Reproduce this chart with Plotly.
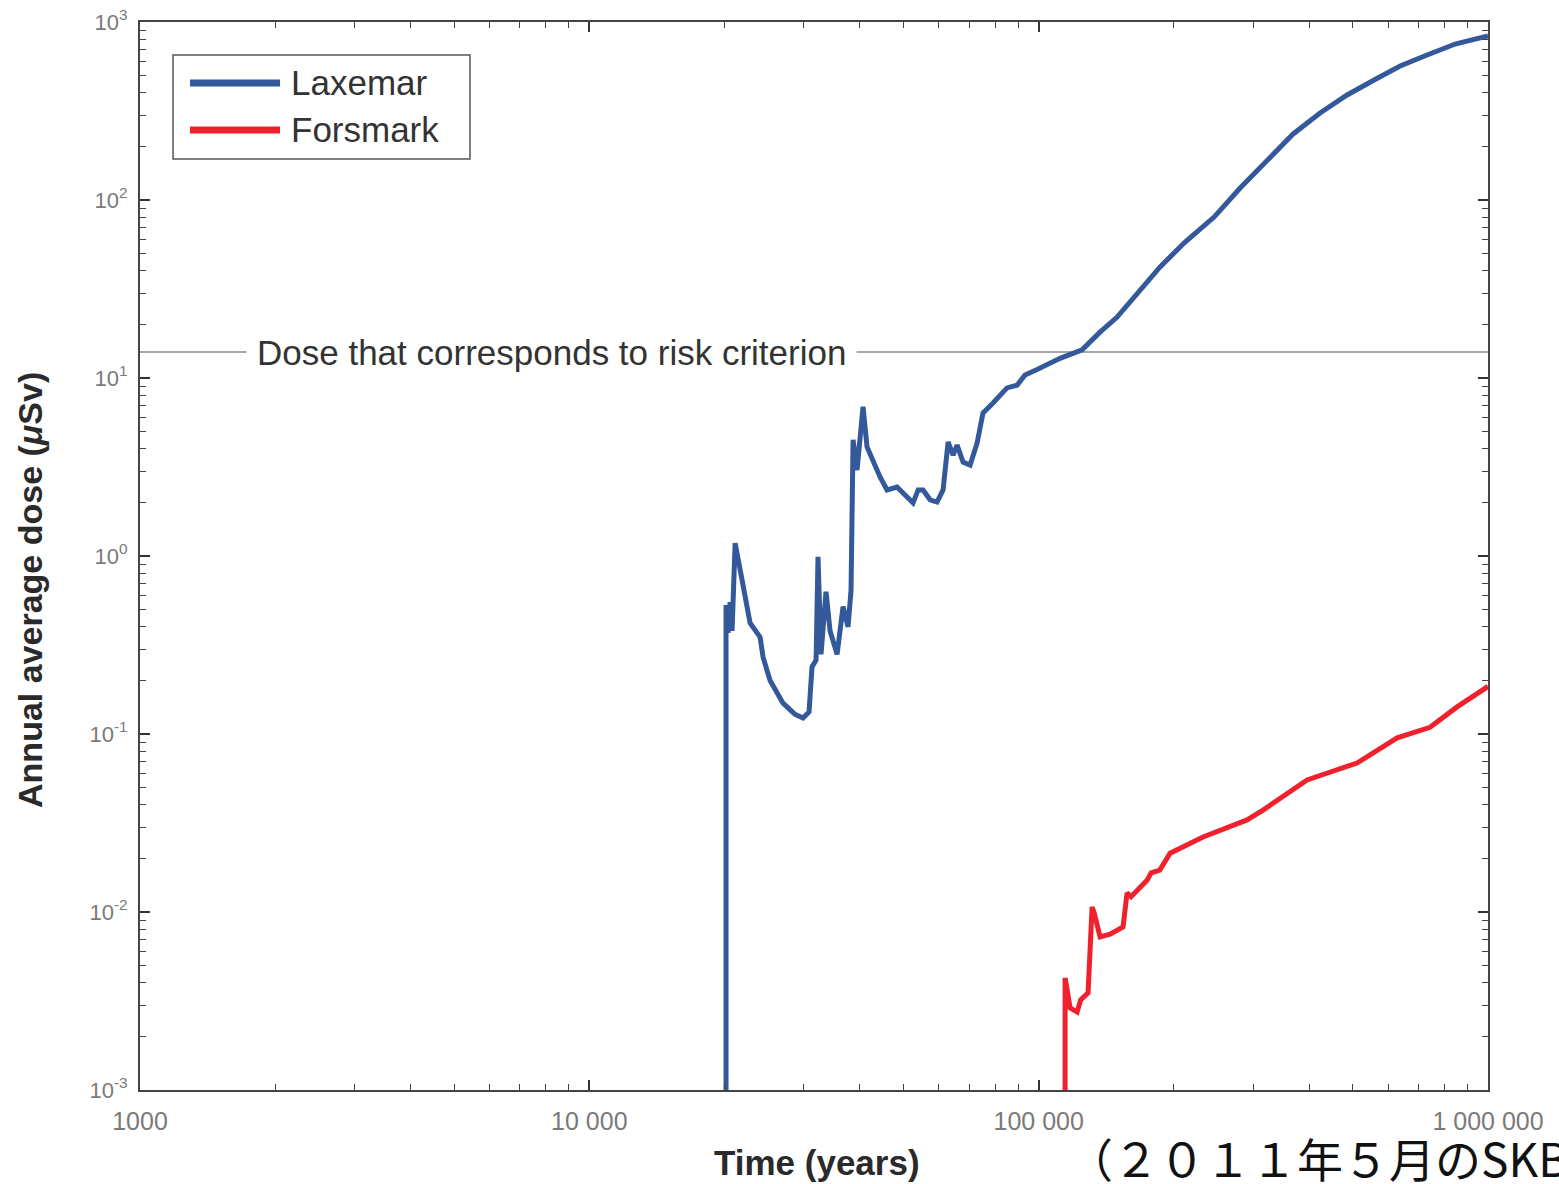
import plotly.graph_objects as go

# ---- data ----
lax_t = [20150, 20150, 20360, 20570, 20780, 21110, 21880, 22790, 23990, 24360, 25250,
         26980, 28700, 29900, 30830, 31300, 31960, 32280, 32780, 33630, 34330, 35590,
         36700, 37650, 38230, 38630, 39430, 40040, 40660, 41500, 42800, 44360, 45980,
         48400, 50420, 52540, 53920, 55300, 57330, 59410, 61270, 62870, 64500, 65840,
         67890, 70370, 72950, 75180, 79150, 82050, 85040, 89500, 93260, 98670, 103300,
         111600, 124900, 136950, 149500, 163900, 186300, 211800, 245700, 280800, 322400,
         368400, 423000, 485800, 557900, 637500, 731900, 845200, 1000000]
lax_v = [1e-4, 0.53, 0.37, 0.55, 0.38, 1.18, 0.73, 0.42, 0.35, 0.27, 0.20,
         0.149, 0.129, 0.123, 0.133, 0.238, 0.26, 0.99, 0.28, 0.63, 0.38, 0.28,
         0.52, 0.40, 0.64, 4.5, 3.04, 4.5, 6.9, 4.1, 3.37, 2.78, 2.35,
         2.44, 2.20, 1.99, 2.35, 2.35, 2.07, 2.01, 2.35, 4.37, 3.69, 4.2,
         3.37, 3.24, 4.32, 6.36, 7.24, 8.0, 8.8, 9.1, 10.4, 11.1, 11.8,
         12.9, 14.4, 18.1, 22.0, 28.9, 42.1, 58.1, 80.2, 116.7, 168,
         235, 308, 389, 472, 566, 653, 752, 834]

for_t = [114500, 114500, 117500, 121800, 124000, 128800, 131500, 133000, 137000, 144200,
         154100, 157300, 160500, 174300, 178000, 186000, 196100, 232200, 290900, 315800,
         395800, 511100, 627900, 743000, 853700, 975000, 1000000]
for_v = [1e-4, 0.00426, 0.00289, 0.00274, 0.00321, 0.00351, 0.01067, 0.0098, 0.00724, 0.0075,
         0.00824, 0.0128, 0.0122, 0.0151, 0.0166, 0.0172, 0.0214, 0.0264, 0.0329, 0.0374,
         0.0552, 0.0687, 0.0951, 0.109, 0.142, 0.177, 0.185]

risk_level = 14.0
risk_label = "Dose that corresponds to risk criterion"

x_tickvals = [1000, 10000, 100000, 1000000]
x_ticktext = ["1000", "10 000", "100 000", "1 000 000"]
y_tickvals = [1e-3, 1e-2, 1e-1, 1e0, 1e1, 1e2, 1e3]
y_ticktext = ["10<sup>-3</sup>", "10<sup>-2</sup>", "10<sup>-1</sup>", "10<sup>0</sup>",
              "10<sup>1</sup>", "10<sup>2</sup>", "10<sup>3</sup>"]

series_names = ["Laxemar", "Forsmark"]
source_note = "（２０１１年５月のSKB"

BLUE = "#33599a"
RED = "#f0202c"
FONT = "Liberation Sans, Arial, sans-serif"
BOLDFONT = "Liberation Sans Narrow, Arial Narrow, Liberation Sans, Arial, sans-serif"

x_minor = [m * 10 ** e for e in range(3, 6) for m in range(2, 10)]
y_minor = [m * 10.0 ** e for e in range(-3, 3) for m in range(2, 10)]

fig = go.Figure()
fig.add_trace(go.Scatter(x=lax_t, y=lax_v, mode="lines", name=series_names[0],
                         line=dict(color=BLUE, width=5), showlegend=False))
fig.add_trace(go.Scatter(x=for_t, y=for_v, mode="lines", name=series_names[1],
                         line=dict(color=RED, width=5), showlegend=False))

# risk criterion line
fig.add_shape(type="line", xref="paper", x0=0, x1=1, yref="y", y0=risk_level, y1=risk_level,
              line=dict(color="#8a8a8a", width=1.5), layer="below")
fig.add_annotation(x=0.3056, xref="paper", y=1.146, yref="y", text=risk_label, showarrow=False,
                   xanchor="center", yanchor="middle",
                   font=dict(family=FONT, size=35, color="#333333"), bgcolor="white",
                   borderpad=10)

# manual legend
fig.add_shape(type="rect", xref="paper", yref="paper", x0=0.0245, x1=0.2448, y0=0.8717, y1=0.969,
              line=dict(color="#555555", width=1.5), fillcolor="white")
leg_y = [0.9429, 0.8989]
for name, col, yy in zip(series_names, [BLUE, RED], leg_y):
    fig.add_shape(type="line", xref="paper", yref="paper", x0=0.0371, x1=0.1039, y0=yy, y1=yy,
                  line=dict(color=col, width=7))
    fig.add_annotation(x=0.1105, xref="paper", y=yy, yref="paper", text=name, showarrow=False,
                       xanchor="left", yanchor="middle",
                       font=dict(family=FONT, size=35, color="#333333"))

# axis titles
fig.add_annotation(x=-0.0816, xref="paper", y=0.4682, yref="paper",
                   text="<b>Annual average dose (<i>μ</i>Sv)</b>", showarrow=False, textangle=-90,
                   xanchor="center", yanchor="middle",
                   font=dict(family=BOLDFONT, size=34, color="#2a2a2a"))
fig.add_annotation(x=0.502, xref="paper", y=-0.068, yref="paper",
                   text="<b>Time (years)</b>", showarrow=False,
                   xanchor="center", yanchor="middle",
                   font=dict(family=BOLDFONT, size=35, color="#2a2a2a"))

# source note (Japanese), runs off the right edge as in the reference
fig.add_annotation(x=0.6865, xref="paper", y=-0.0625, yref="paper", text=source_note,
                   showarrow=False, xanchor="left", yanchor="middle",
                   font=dict(family="Noto Sans CJK JP", size=46, color="#111111"))

axis_common = dict(type="log", showgrid=False, zeroline=False, showline=True,
                   linecolor="#444444", linewidth=2, mirror="allticks", automargin=False,
                   ticks="inside", ticklen=10, tickwidth=2, tickcolor="#333333")

fig.update_xaxes(**axis_common, range=[3, 6], tickvals=x_tickvals, ticktext=x_ticktext,
                 minor=dict(ticks="inside", ticklen=6, tickwidth=1.3, tickcolor="#444444",
                            tickvals=x_minor, showgrid=False),
                 tickfont=dict(family=FONT, size=25, color="#7a7a7a"), ticklabelstandoff=8)
fig.update_yaxes(**axis_common, range=[-3, 3], tickvals=y_tickvals, ticktext=y_ticktext,
                 minor=dict(ticks="inside", ticklen=6, tickwidth=1.3, tickcolor="#444444",
                            tickvals=y_minor, showgrid=False),
                 tickfont=dict(family=FONT, size=22, color="#7a7a7a"), ticklabelstandoff=6)

fig.update_layout(width=1559, height=1184, margin=dict(l=140, r=71, t=22, b=94),
                  paper_bgcolor="white", plot_bgcolor="white", showlegend=False)

fig.write_html("out.html")
